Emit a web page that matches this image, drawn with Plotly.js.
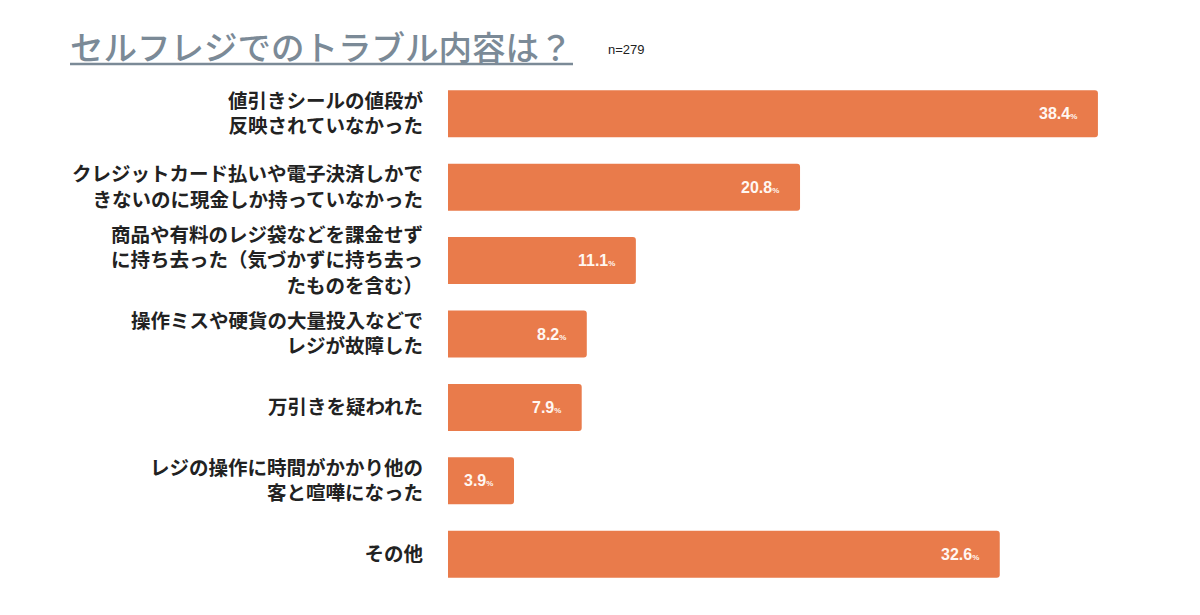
<!DOCTYPE html>
<html>
<head>
<meta charset="utf-8">
<script src="https://cdn.plot.ly/plotly-3.0.1.min.js"></script>
<style>html,body{margin:0;padding:0;background:#fff;}#chart{width:1200px;height:615px;}</style>
</head>
<body>
<div id="chart"></div>
<script>
const categories = [
  "値引きシールの値段が<br>反映されていなかった",
  "クレジットカード払いや電子決済しかで<br>きないのに現金しか持っていなかった",
  "商品や有料のレジ袋などを課金せず<br>に持ち去った（気づかずに持ち去っ<br>たものを含む）",
  "操作ミスや硬貨の大量投入などで<br>レジが故障した",
  "万引きを疑われた",
  "レジの操作に時間がかかり他の<br>客と喧嘩になった",
  "その他"
];
const values = [38.4, 20.8, 11.1, 8.2, 7.9, 3.9, 32.6];
const titleText = "セルフレジでのトラブル内容は？";
const sampleText = "n=279";

const FONT = '"Noto Sans CJK JP", "Noto Sans", sans-serif';
const NUMFONT = '"Liberation Sans", Arial, sans-serif';
const W = 1200, ML = 448, MR = 75;
const plotW = W - ML - MR;
const px2paper = p => (p - ML) / plotW;

const annotations = values.map((v, i) => ({
  x: v, y: categories[i], xref: 'x', yref: 'y',
  text: '<b>' + v.toFixed(1) + '</b><span style="font-size:8px"><b>%</b></span>',
  showarrow: false, xanchor: 'right', xshift: -19,
  font: {family: NUMFONT, size: 16, color: '#fff7f2'}
}));
annotations.push({
  xref: 'paper', yref: 'paper', x: px2paper(68), y: 1 + (77 - 45) / 514,
  xanchor: 'left', yanchor: 'middle', showarrow: false,
  text: titleText, font: {family: FONT, size: 33.5, color: '#7b8a97', weight: 500}
});
annotations.push({
  xref: 'paper', yref: 'paper', x: px2paper(606), y: 1 + (77 - 50) / 514,
  xanchor: 'left', yanchor: 'middle', showarrow: false,
  text: sampleText, font: {family: NUMFONT, size: 13, color: '#222'}
});

const trace = {
  type: 'bar', orientation: 'h',
  x: values, y: categories,
  width: 0.64,
  marker: {color: '#e97b4b', cornerradius: 3},
  hoverinfo: 'skip'
};

const layout = {
  width: 1200, height: 615,
  margin: {l: ML, r: MR, t: 77, b: 24},
  paper_bgcolor: '#fff', plot_bgcolor: '#fff',
  showlegend: false,
  xaxis: {range: [0, 40], visible: false, fixedrange: true},
  yaxis: {
    autorange: false, range: [6.5, -0.5],
    categoryorder: 'array', categoryarray: categories,
    showgrid: false, zeroline: false, showline: false, ticks: '',
    ticklabelstandoff: 24,
    tickfont: {family: FONT, size: 19.5, color: '#222', weight: 'bold'}
  },
  annotations: annotations,
  shapes: [{
    type: 'line', xref: 'paper', yref: 'paper',
    x0: px2paper(70), x1: px2paper(573),
    y0: 1 + (77 - 64) / 514, y1: 1 + (77 - 64) / 514,
    line: {color: '#7b8a97', width: 2.5}
  }]
};

Plotly.newPlot('chart', [trace], layout, {staticPlot: true, displayModeBar: false});
</script>
</body>
</html>
